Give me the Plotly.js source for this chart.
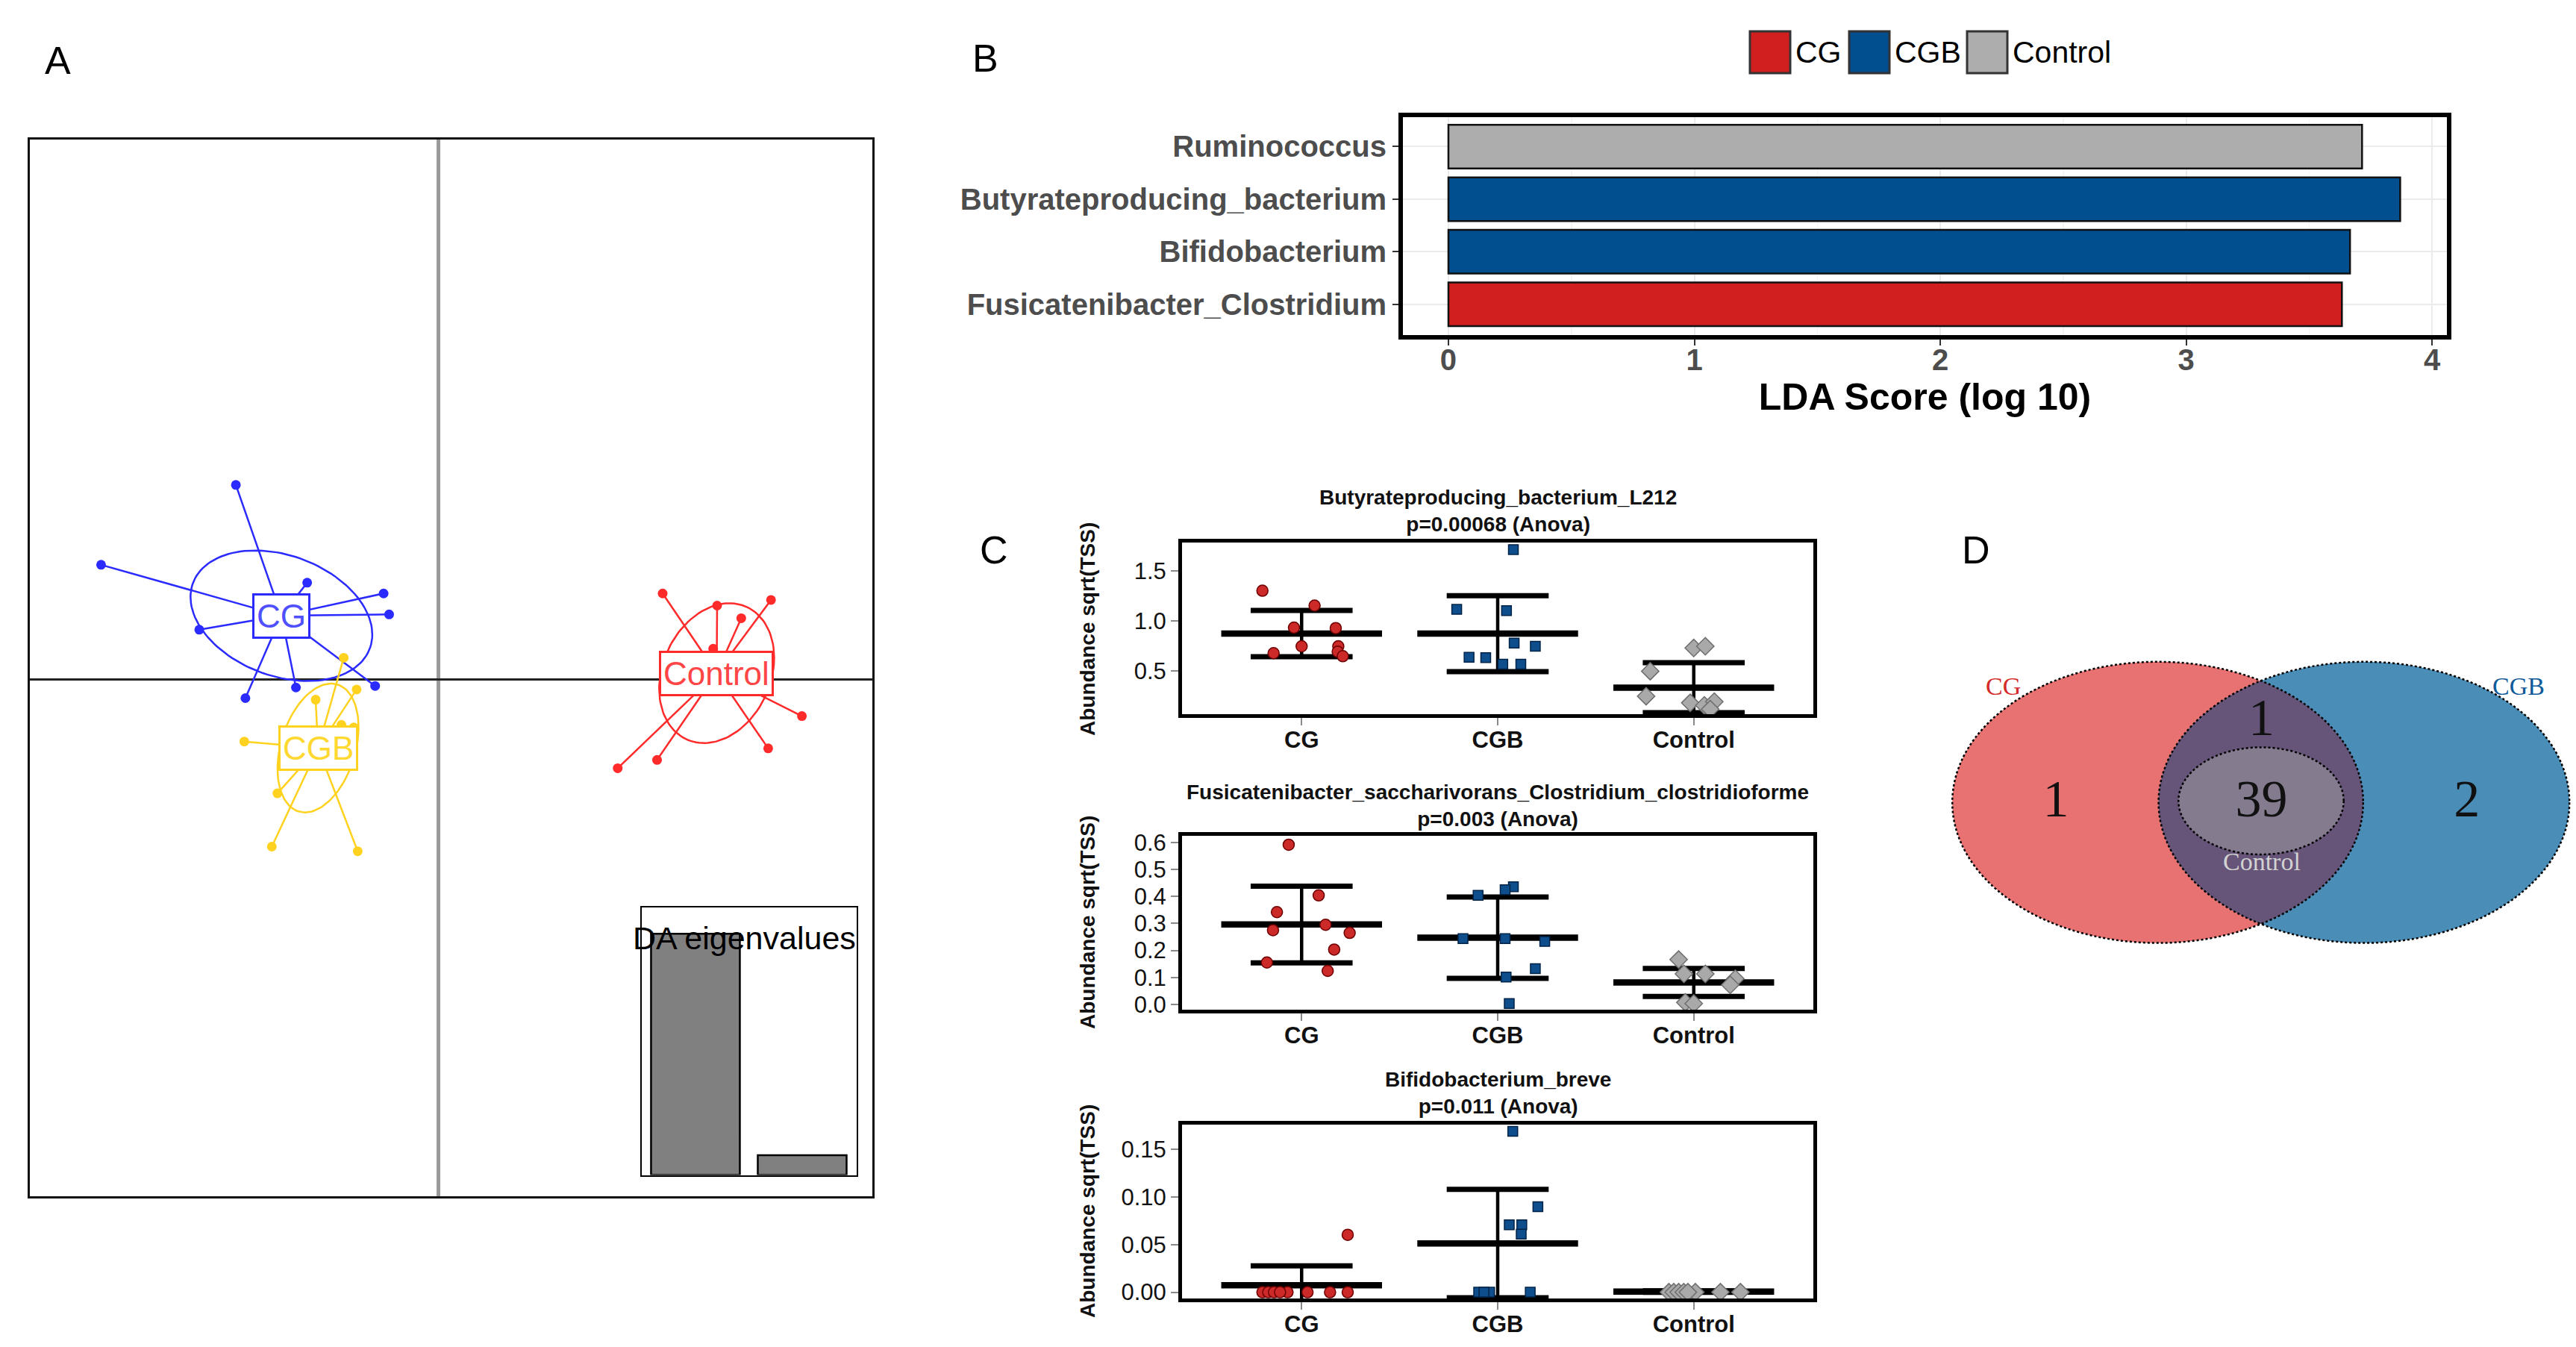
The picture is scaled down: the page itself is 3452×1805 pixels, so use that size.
<!DOCTYPE html>
<html><head><meta charset="utf-8">
<script src="https://cdn.plot.ly/plotly-3.0.1.min.js"></script>
<style>html,body{margin:0;padding:0;background:#fff}#chart{width:3452px;height:1805px}</style>
</head><body><div id="chart"></div>
<script>
// ================= DATA =================
// Panel A: DAPC scores (LD1, LD2) per group
const groupsA = ['CG', 'CGB', 'Control'];
const cgLD1 = [-3.085, -5.136, -2.0, -0.837, -0.753, -3.642, -0.966, -2.171, -2.94];
const cgLD2 = [2.964, 1.749, 1.476, 1.313, 0.994, 0.761, -0.095, -0.118, -0.28];
const cgbLD1 = [-1.444, -1.248, -1.871, -1.479, -1.291, -2.957, -2.453, -2.538, -1.231];
const cgbLD2 = [0.334, -0.148, -0.304, -0.686, -0.727, -0.941, -1.729, -2.54, -2.61];
const ctrlLD1 = [3.409, 4.238, 5.058, 4.605, 4.178, 5.528, 5.015, 3.324, 2.725];
const ctrlLD2 = [1.313, 1.128, 1.214, 0.936, 0.472, -0.553, -1.045, -1.22, -1.347];
const eigenvalues = [12.4, 1.02];
const eigenTitle = 'DA eigenvalues';

// Panel B: LEfSe LDA scores
const ldaTaxa = ['Fusicatenibacter_Clostridium', 'Bifidobacterium', 'Butyrateproducing_bacterium', 'Ruminococcus'];
const ldaScore = [3.633, 3.666, 3.87, 3.715];
const ldaGroup = ['CG', 'CGB', 'CGB', 'Control'];
const legendGroups = ['CG', 'CGB', 'Control'];
const ldaAxisTitle = 'LDA Score (log 10)';

// Panel C: abundance sqrt(TSS) per sample, mean and sd per group
const dotGroups = ['CG', 'CGB', 'Control'];
const dotYTitle = 'Abundance sqrt(TSS)';

const butTitle = 'Butyrateproducing_bacterium_L212';
const butP = 'p=0.00068 (Anova)';
const butCG = [1.305, 1.156, 0.936, 0.931, 0.749, 0.749, 0.695, 0.68, 0.65];
const butCGjit = [-0.2, 0.066, -0.039, 0.174, 0.0, 0.187, 0.184, -0.143, 0.21];
const butCGB = [1.717, 1.118, 1.106, 0.781, 0.749, 0.639, 0.635, 0.57, 0.57];
const butCGBjit = [0.08, -0.209, 0.045, 0.084, 0.192, -0.146, -0.061, 0.026, 0.118];
const butCtrl = [0.732, 0.749, 0.5, 0.25, 0.183, 0.158, 0.195, 0.12];
const butCtrljit = [0.0, 0.059, -0.222, -0.243, -0.018, 0.054, 0.105, 0.084];
const butMean = [0.876, 0.876, 0.335];
const butSD = [0.231, 0.38, 0.25];

const fusTitle = 'Fusicatenibacter_saccharivorans_Clostridium_clostridioforme';
const fusP = 'p=0.003 (Anova)';
const fusCG = [0.592, 0.404, 0.342, 0.295, 0.275, 0.265, 0.203, 0.155, 0.124];
const fusCGjit = [-0.066, 0.087, -0.126, 0.122, -0.146, 0.245, 0.166, -0.177, 0.133];
const fusCGB = [0.436, 0.425, 0.404, 0.244, 0.244, 0.233, 0.132, 0.101, 0.003];
const fusCGBjit = [0.08, 0.038, -0.1, -0.177, 0.038, 0.24, 0.192, 0.043, 0.059];
const fusCtrl = [0.166, 0.113, 0.113, 0.095, 0.072, 0.007, 0.003];
const fusCtrljit = [-0.077, -0.05, 0.059, 0.212, 0.186, -0.043, 0.0];
const fusMean = [0.296, 0.247, 0.081];
const fusSD = [0.142, 0.151, 0.052];

const bifTitle = 'Bifidobacterium_breve';
const bifP = 'p=0.011 (Anova)';
const bifCG = [0.0603, 0, 0, 0, 0, 0, 0, 0, 0];
const bifCGjit = [0.235, -0.2, -0.17, -0.141, -0.072, 0.03, 0.145, 0.235, -0.11];
const bifCGB = [0.169, 0.0897, 0.0708, 0.0708, 0.061, 0, 0, 0, 0];
const bifCGBjit = [0.077, 0.205, 0.059, 0.123, 0.12, -0.097, -0.041, 0.166, -0.07];
const bifCtrl = [0, 0, 0, 0, 0, 0, 0, 0];
const bifCtrljit = [-0.127, -0.102, -0.077, -0.051, 0.008, 0.136, 0.238, -0.03];
const bifMean = [0.0074, 0.0511, 0.0006];
const bifSD = [0.0202, 0.057, 0.0008];

// Panel D: Venn counts
const vennSets = ['CG', 'CGB', 'Control'];
const vennRegions = ['CG only', 'CG & CGB', 'CG & CGB & Control', 'CGB only'];
const vennCounts = [1, 1, 39, 2];

// ================= LAYOUT HELPERS =================
const W = 3452, H = 1805;
const PX = x => x / W;
const PY = y => 1 - y / H;
const dX = (a, b) => [a / W, b / W];
const dY = (top, bottom) => [1 - bottom / H, 1 - top / H];
const SANS = 'Liberation Sans, Arial, sans-serif';
const SERIF = 'Liberation Serif, Times New Roman, serif';

const traces = [];
const annotations = [];
const shapes = [];

// ================= PANEL A =================
const colA = {CG: '#2B2BFF', CGB: '#FFD21F', Control: '#FF2B2B'};
const lblA = {CG: '#5050FF', CGB: '#FFD830', Control: '#FF4545'};
const ldA = [[cgLD1, cgLD2], [cgbLD1, cgbLD2], [ctrlLD1, ctrlLD2]];
const ellScale = 1.0;
groupsA.forEach((g, k) => {
  const xs = ldA[k][0], ys = ldA[k][1], n = xs.length;
  const mx = xs.reduce((a, b) => a + b, 0) / n;
  const my = ys.reduce((a, b) => a + b, 0) / n;
  let sxx = 0, syy = 0, sxy = 0;
  for (let i = 0; i < n; i++) {
    sxx += (xs[i] - mx) ** 2; syy += (ys[i] - my) ** 2; sxy += (xs[i] - mx) * (ys[i] - my);
  }
  sxx /= n; syy /= n; sxy /= n;
  const l11 = Math.sqrt(sxx), l21 = sxy / l11, l22 = Math.sqrt(Math.max(syy - l21 * l21, 1e-9));
  const ex = [], ey = [];
  for (let t = 0; t <= 120; t++) {
    const a = 2 * Math.PI * t / 120, c = Math.cos(a), s = Math.sin(a);
    ex.push(mx + ellScale * l11 * c);
    ey.push(my + ellScale * (l21 * c + l22 * s));
  }
  const segX = [], segY = [];
  for (let i = 0; i < n; i++) { segX.push(mx, xs[i], null); segY.push(my, ys[i], null); }
  traces.push({type: 'scatter', mode: 'lines', x: segX, y: segY, xaxis: 'x', yaxis: 'y',
    line: {color: colA[g], width: 2.5}, hoverinfo: 'skip'});
  traces.push({type: 'scatter', mode: 'lines', x: ex, y: ey, xaxis: 'x', yaxis: 'y',
    line: {color: colA[g], width: 2.5}, hoverinfo: 'skip'});
  traces.push({type: 'scatter', mode: 'markers', x: xs, y: ys, xaxis: 'x', yaxis: 'y', name: g,
    marker: {color: colA[g], size: 13, line: {width: 0}}});
  annotations.push({xref: 'x', yref: 'y', x: mx, y: my, text: g, showarrow: false,
    font: {family: SANS, size: 44, color: lblA[g]}, bgcolor: '#ffffff',
    bordercolor: colA[g], borderwidth: 3, borderpad: 3, xanchor: 'center', yanchor: 'middle'});
});
// eigenvalue inset
traces.push({type: 'bar', x: eigenvalues.map((v, i) => i + 1), y: eigenvalues, xaxis: 'x6', yaxis: 'y6',
  width: 0.832, marker: {color: '#808080', line: {color: '#000', width: 2.5}}, hoverinfo: 'skip'});
annotations.push({xref: 'paper', yref: 'paper', x: PX(997), y: PY(1257), text: eigenTitle, showarrow: false,
  font: {family: SANS, size: 43, color: '#000'}, xanchor: 'center', yanchor: 'middle'});

// ================= PANEL B =================
const colB = {CG: '#D11F1F', CGB: '#014F8F', Control: '#ADADAD'};
traces.push({type: 'bar', orientation: 'h', x: ldaScore, y: ldaTaxa, xaxis: 'x2', yaxis: 'y2', width: 0.83,
  marker: {color: ldaGroup.map(g => colB[g]), line: {color: '#111', width: 2.5}}, hoverinfo: 'skip'});
// legend (manual)
const legBoxX = [2345, 2478, 2636];
legendGroups.forEach((g, i) => {
  shapes.push({type: 'rect', xref: 'paper', yref: 'paper', x0: PX(legBoxX[i]), x1: PX(legBoxX[i] + 54),
    y0: PY(98), y1: PY(42), fillcolor: colB[g], line: {color: '#333', width: 3}});
  annotations.push({xref: 'paper', yref: 'paper', x: PX(legBoxX[i] + 59), y: PY(70), text: g, showarrow: false,
    font: {family: SANS, size: 41, color: '#000'}, xanchor: 'left', yanchor: 'middle'});
});

// ================= PANEL C =================
const markC = [
  {symbol: 'circle', color: '#CC2929', line: {color: '#6e0000', width: 1.5}, size: 15},
  {symbol: 'square', color: '#0F4E8C', line: {color: '#002347', width: 1.5}, size: 13},
  {symbol: 'diamond', color: '#A9A9A9', line: {color: '#6e6e6e', width: 1.5}, size: 18}
];
function dotPanel(ax, vals, jits, means, sds) {
  const xa = 'x' + ax, ya = 'y' + ax;
  const vx = [], vy = [], sx = [], sy = [], mx = [], my = [];
  means.forEach((m, i) => {
    vx.push(i, i, null); vy.push(m - sds[i], m + sds[i], null);
    sx.push(i - 0.26, i + 0.26, null, i - 0.26, i + 0.26, null);
    sy.push(m + sds[i], m + sds[i], null, m - sds[i], m - sds[i], null);
    mx.push(i - 0.41, i + 0.41, null); my.push(m, m, null);
  });
  traces.push({type: 'scatter', mode: 'lines', x: vx, y: vy, xaxis: xa, yaxis: ya, line: {color: '#000', width: 4.5}, hoverinfo: 'skip'});
  traces.push({type: 'scatter', mode: 'lines', x: sx, y: sy, xaxis: xa, yaxis: ya, line: {color: '#000', width: 7}, hoverinfo: 'skip'});
  traces.push({type: 'scatter', mode: 'lines', x: mx, y: my, xaxis: xa, yaxis: ya, line: {color: '#000', width: 8.5}, hoverinfo: 'skip'});
  vals.forEach((v, i) => {
    traces.push({type: 'scatter', mode: 'markers', x: jits[i].map(j => i + j), y: v, xaxis: xa, yaxis: ya,
      name: dotGroups[i], marker: markC[i], hoverinfo: 'skip'});
  });
}
dotPanel(3, [butCG, butCGB, butCtrl], [butCGjit, butCGBjit, butCtrljit], butMean, butSD);
dotPanel(4, [fusCG, fusCGB, fusCtrl], [fusCGjit, fusCGBjit, fusCtrljit], fusMean, fusSD);
dotPanel(5, [bifCG, bifCGB, bifCtrl], [bifCGjit, bifCGBjit, bifCtrljit], bifMean, bifSD);

const cTitles = [[butTitle, butP, 684, 843], [fusTitle, fusP, 1079, 1236], [bifTitle, bifP, 1464, 1623]];
cTitles.forEach(t => {
  annotations.push({xref: 'paper', yref: 'paper', x: PX(2007), y: PY(t[2]), text: t[0] + '<br>' + t[1], showarrow: false,
    font: {family: SANS, size: 28, color: '#111', weight: 'bold'}, xanchor: 'center', yanchor: 'middle'});
  annotations.push({xref: 'paper', yref: 'paper', x: PX(1457), y: PY(t[3]), text: dotYTitle, showarrow: false, textangle: -90,
    font: {family: SANS, size: 28, color: '#111', weight: 'bold'}, xanchor: 'center', yanchor: 'middle'});
});

// ================= PANEL D =================
const vL = {cx: 2891.5, cy: 1075.2, rx: 275.3, ry: 188.4};
const vR = {cx: 3167.9, cy: 1075.2, rx: 275.3, ry: 188.4};
const vI = {cx: 3030.0, cy: 1073.2, rx: 110.7, ry: 71.8};
const ellShape = (e, fill, line) => ({type: 'circle', xref: 'x7', yref: 'y7',
  x0: e.cx - e.rx, x1: e.cx + e.rx, y0: e.cy - e.ry, y1: e.cy + e.ry, fillcolor: fill, line: line, layer: 'below'});
const noLine = {width: 0};
const dashLine = {color: '#000', width: 2.5, dash: 'dot'};
shapes.push(ellShape(vL, '#E87171', noLine));
shapes.push(ellShape(vR, '#4A8EB8', noLine));
(function () {
  const d = (vR.cx - vL.cx) / 2, th0 = Math.acos(d / vL.rx);
  let p = '';
  for (let i = 0; i <= 60; i++) {
    const t = -th0 + 2 * th0 * i / 60;
    p += (i === 0 ? 'M' : 'L') + (vL.cx + vL.rx * Math.cos(t)).toFixed(2) + ',' + (vL.cy + vL.ry * Math.sin(t)).toFixed(2);
  }
  for (let i = 0; i <= 60; i++) {
    const t = Math.PI - th0 + 2 * th0 * i / 60;
    p += 'L' + (vR.cx + vR.rx * Math.cos(t)).toFixed(2) + ',' + (vR.cy + vR.ry * Math.sin(t)).toFixed(2);
  }
  p += 'Z';
  shapes.push({type: 'path', xref: 'x7', yref: 'y7', path: p, fillcolor: '#665479', line: {width: 0}, layer: 'below'});
})();
shapes.push(ellShape(vI, '#857B8F', noLine));
shapes.push(ellShape(vL, 'rgba(0,0,0,0)', dashLine));
shapes.push(ellShape(vR, 'rgba(0,0,0,0)', dashLine));
shapes.push(ellShape(vI, 'rgba(0,0,0,0)', dashLine));
// counts
const vennPos = [[2755, 1076], [3030.5, 967], [3030.5, 1076], [3305.8, 1076]];
traces.push({type: 'scatter', mode: 'text', x: vennPos.map(p => p[0]), y: vennPos.map(p => p[1]),
  text: vennCounts.map(String), customdata: vennRegions, xaxis: 'x7', yaxis: 'y7', cliponaxis: false,
  textposition: 'middle center',
  textfont: {family: SERIF, size: 70, color: '#111'}, hoverinfo: 'skip'});
const vennLabelPos = [[2684.6, 919, '#D42A2A'], [3375.3, 919, '#0E5A9A'], [3030.5, 1154, '#D2D2D2']];
vennSets.forEach((s, i) => {
  annotations.push({xref: 'x7', yref: 'y7', x: vennLabelPos[i][0], y: vennLabelPos[i][1], text: s, showarrow: false,
    font: {family: SERIF, size: 34, color: vennLabelPos[i][2]}, xanchor: 'center', yanchor: 'middle'});
});

// panel letters
[['A', 77, 81], ['B', 1320, 78], ['C', 1332, 737], ['D', 2648, 737]].forEach(l => {
  annotations.push({xref: 'paper', yref: 'paper', x: PX(l[1]), y: PY(l[2]), text: l[0], showarrow: false,
    font: {family: SANS, size: 52, color: '#000'}, xanchor: 'center', yanchor: 'middle'});
});

// ================= AXES =================
const hidden = {showticklabels: false, ticks: '', showgrid: false, zeroline: false};
const cX = (ax, dom) => ({domain: dom, anchor: 'y' + ax, range: [-0.61, 2.61], tickvals: [0, 1, 2], ticktext: dotGroups,
  ticks: 'outside', ticklen: 10, tickwidth: 2, tickcolor: '#8a8a8a', showgrid: false, zeroline: false,
  showline: true, mirror: true, linecolor: '#000', linewidth: 5, ticklabelstandoff: -7,
  tickfont: {family: SANS, size: 31, color: '#111', weight: 'bold'}});
const cY = (ax, dom, range, dtick, fmt) => ({domain: dom, anchor: 'x' + ax, range: range, dtick: dtick, tick0: 0, tickformat: fmt,
  ticks: 'outside', ticklen: 10, tickwidth: 2, tickcolor: '#8a8a8a', showgrid: false, zeroline: false,
  showline: true, mirror: true, linecolor: '#000', linewidth: 5,
  tickfont: {family: SANS, size: 31, color: '#111'}});

const layout = {
  width: W, height: H, margin: {l: 0, r: 0, t: 0, b: 0}, paper_bgcolor: '#fff', plot_bgcolor: 'rgba(0,0,0,0)',
  showlegend: false, font: {family: SANS},
  xaxis: Object.assign({domain: dX(40, 1169), anchor: 'y', range: [-6.22, 6.60], showline: true, mirror: true,
    linecolor: '#111', linewidth: 3}, hidden, {zeroline: true, zerolinecolor: '#9a9a9a', zerolinewidth: 5}),
  yaxis: Object.assign({domain: dY(187, 1603), anchor: 'x', range: [-7.86, 8.22], showline: true, mirror: true,
    linecolor: '#111', linewidth: 3}, hidden, {zeroline: true, zerolinecolor: '#222', zerolinewidth: 3}),
  xaxis6: Object.assign({domain: dX(860, 1147.5), anchor: 'y6', range: [0.497, 2.507], showline: true, mirror: true,
    linecolor: '#000', linewidth: 2.5}, hidden),
  yaxis6: Object.assign({domain: dY(1216, 1574.5), anchor: 'x6', range: [0, 13.75], showline: true, mirror: true,
    linecolor: '#000', linewidth: 2.5}, hidden),
  xaxis2: {domain: dX(1880, 3279), anchor: 'y2', range: [-0.185, 4.06], tickvals: [0, 1, 2, 3, 4],
    ticks: 'outside', ticklen: 8, tickwidth: 2, tickcolor: '#333', showline: true, mirror: true, linecolor: '#000', linewidth: 6,
    showgrid: true, gridcolor: '#ebebeb', gridwidth: 2, zeroline: false, ticklabelstandoff: -15,
    minor: {dtick: 0.5, showgrid: true, gridcolor: '#f5f5f5', gridwidth: 1.5, ticks: ''},
    tickfont: {family: SANS, size: 40, color: '#4d4d4d', weight: 'bold'},
    title: {text: ldaAxisTitle, font: {family: SANS, size: 50, color: '#000', weight: 'bold'}, standoff: 11}},
  yaxis2: {domain: dY(157, 449), anchor: 'x2', type: 'category', categoryorder: 'array', categoryarray: ldaTaxa,
    range: [-0.585, 3.56], ticks: 'outside', ticklen: 8, tickwidth: 2, tickcolor: '#333',
    showline: true, mirror: true, linecolor: '#000', linewidth: 6, showgrid: true, gridcolor: '#ebebeb', gridwidth: 2,
    zeroline: false, tickfont: {family: SANS, size: 40, color: '#4d4d4d', weight: 'bold'}},
  xaxis3: cX(3, dX(1584, 2430)),
  yaxis3: cY(3, dY(727, 957), [0.07, 1.787], 0.5, '.1f'),
  xaxis4: cX(4, dX(1584, 2430)),
  yaxis4: cY(4, dY(1120, 1353), [-0.02, 0.625], 0.1, '.1f'),
  xaxis5: cX(5, dX(1584, 2430)),
  yaxis5: cY(5, dY(1507, 1740), [-0.0066, 0.176], 0.05, '.2f'),
  xaxis7: Object.assign({domain: dX(2600, 3450), anchor: 'y7', range: [2600, 3450]}, hidden, {showline: false}),
  yaxis7: Object.assign({domain: dY(860, 1290), anchor: 'x7', range: [1290, 860]}, hidden, {showline: false}),
  annotations: annotations,
  shapes: shapes
};

Plotly.newPlot('chart', traces, layout, {staticPlot: true});
</script>
</body></html>
